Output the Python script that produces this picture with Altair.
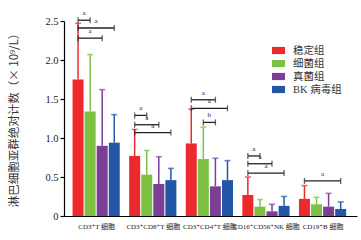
import json
import altair as alt
import pandas as pd

categories = ["CD3⁺T 细胞", "CD3⁺CD8⁺T 细胞", "CD3⁺CD4⁺T 细胞", "CD16⁺CD56⁺NK 细胞", "CD19⁺B 细胞"]
groups = ["稳定组", "细菌组", "真菌组", "BK 病毒组"]
colors = ["#EC2A2D", "#7DC143", "#7B3F98", "#2157A6"]

mean_stable = [1.75, 0.77, 0.93, 0.27, 0.22]
mean_bact = [1.34, 0.53, 0.73, 0.12, 0.15]
mean_fungi = [0.90, 0.41, 0.38, 0.06, 0.12]
mean_bk = [0.94, 0.46, 0.46, 0.13, 0.09]

upper_stable = [2.47, 1.11, 1.37, 0.50, 0.39]
upper_bact = [2.07, 0.84, 1.14, 0.21, 0.24]
upper_fungi = [1.62, 0.76, 0.74, 0.15, 0.29]
upper_bk = [1.30, 0.61, 0.71, 0.25, 0.18]

y_ticks = [0, 0.5, 1.0, 1.5, 2.0, 2.5]

# significance brackets: category index, from group, to group, height, label
br_cat = [0, 0, 0, 1, 1, 1, 2, 2, 2, 3, 3, 3, 4]
br_from = [0, 0, 0, 0, 0, 0, 0, 0, 1, 0, 0, 0, 0]
br_to = [1, 3, 2, 1, 2, 3, 2, 3, 2, 1, 2, 3, 3]
br_y = [2.51, 2.41, 2.28, 1.29, 1.17, 1.07, 1.49, 1.38, 1.20, 0.77, 0.67, 0.55, 0.45]
br_lab = ["a", "a", "a", "a", "a", "a", "a", "a", "b", "a", "a", "a", "a"]

STEP = 0.2133


def pos(ci, gi):
    return ci + (gi - 1.5) * STEP


means = [mean_stable, mean_bact, mean_fungi, mean_bk]
uppers = [upper_stable, upper_bact, upper_fungi, upper_bk]
rows = []
for gi, g in enumerate(groups):
    for ci, c in enumerate(categories):
        rows.append({"group": g, "cat": c, "x": pos(ci, gi),
                     "mean": means[gi][ci], "upper": uppers[gi][ci]})
df = pd.DataFrame(rows)

br = pd.DataFrame({
    "x1": [pos(c, f) for c, f in zip(br_cat, br_from)],
    "x2": [pos(c, t) for c, t in zip(br_cat, br_to)],
    "y": br_y, "lab": br_lab,
})
br["xm"] = (br["x1"] + br["x2"]) / 2
ends = pd.concat([br[["x1", "y"]].rename(columns={"x1": "xe"}),
                  br[["x2", "y"]].rename(columns={"x2": "xe"})])

serif = "Liberation Serif, DejaVu Serif, Noto Sans CJK SC"
xscale = alt.Scale(domain=[-0.48, 4.52], nice=False, zero=False)
yscale = alt.Scale(domain=[0, 2.5], nice=False)
cscale = alt.Scale(domain=groups, range=colors)

xaxis = alt.Axis(values=[0, 1, 2, 3, 4], labelExpr=f"{json.dumps(categories, ensure_ascii=False)}[datum.value]",
                 ticks=False, grid=False, domainColor="black", labelFont=serif,
                 labelFontSize=7, labelColor="#222", labelPadding=6, title=None,
                 labelOverlap=False, labelBound=False, labelFlush=False)
yaxis = alt.Axis(values=y_ticks,
                 labelExpr="datum.value == 0 ? '0' : format(datum.value, '.1f')",
                 grid=False, domainColor="black", tickColor="black", tickSize=4,
                 labelFont=serif, labelFontSize=10.5, labelColor="#222", labelPadding=2,
                 labelOverlap=False, labelFlush=False, labelBound=False,
                 title="淋巴细胞亚群绝对计数（× 10⁹/L）", titleFont="Noto Sans CJK SC",
                 titleFontWeight="normal", titleFontSize=11.5, titleColor="#333",
                 titleX=-50, titleY=96, titleBaseline="middle")


def X(f):
    return alt.X(f, type="quantitative", scale=xscale, axis=xaxis)


def Y(f):
    return alt.Y(f, type="quantitative", scale=yscale, axis=yaxis)


bars = alt.Chart(df).mark_bar(size=11).encode(
    x=X("x"), y=Y("mean"),
    color=alt.Color("group:N", scale=cscale, sort=groups,
                    legend=alt.Legend(title=None, orient="none", legendX=208, legendY=23,
                                      symbolType="M-1,-0.55H1V0.55H-1Z", symbolSize=169,
                                      symbolStrokeWidth=0, labelFont=serif, labelFontSize=10.5,
                                      labelColor="#333", labelOffset=8, rowPadding=1)),
)
err = alt.Chart(df).mark_rule(strokeWidth=1.5).encode(
    x=X("x"), y=Y("mean"), y2="upper:Q",
    color=alt.Color("group:N", scale=cscale, legend=None))
caps = alt.Chart(df).mark_tick(orient="horizontal", size=6, thickness=1.6).encode(
    x=X("x"), y=Y("upper"),
    color=alt.Color("group:N", scale=cscale, legend=None))

brl = alt.Chart(br).mark_rule(strokeWidth=1.3, color="#222").encode(
    x=X("x1"), x2="x2:Q", y=Y("y"))
bre = alt.Chart(ends).mark_tick(orient="vertical", size=6, thickness=1.3, color="#222").encode(
    x=X("xe"), y=Y("y"))
brt = alt.Chart(br).mark_text(dy=-4, fontSize=7, font=serif, color="#222", baseline="bottom").encode(
    x=X("xm"), y=Y("y"), text="lab:N")

chart = alt.layer(bars, err, caps, brl, bre, brt).properties(
    width=293, height=195,
    autosize=alt.AutoSizeParams(type="none"),
    padding={"left": 64, "top": 21, "right": 4, "bottom": 24},
).configure_view(stroke=None).configure_axis(domainWidth=1.2, tickWidth=1.2, labelOverlap=False)

chart.save("out.html", embed_options={"renderer": "svg", "actions": False})
